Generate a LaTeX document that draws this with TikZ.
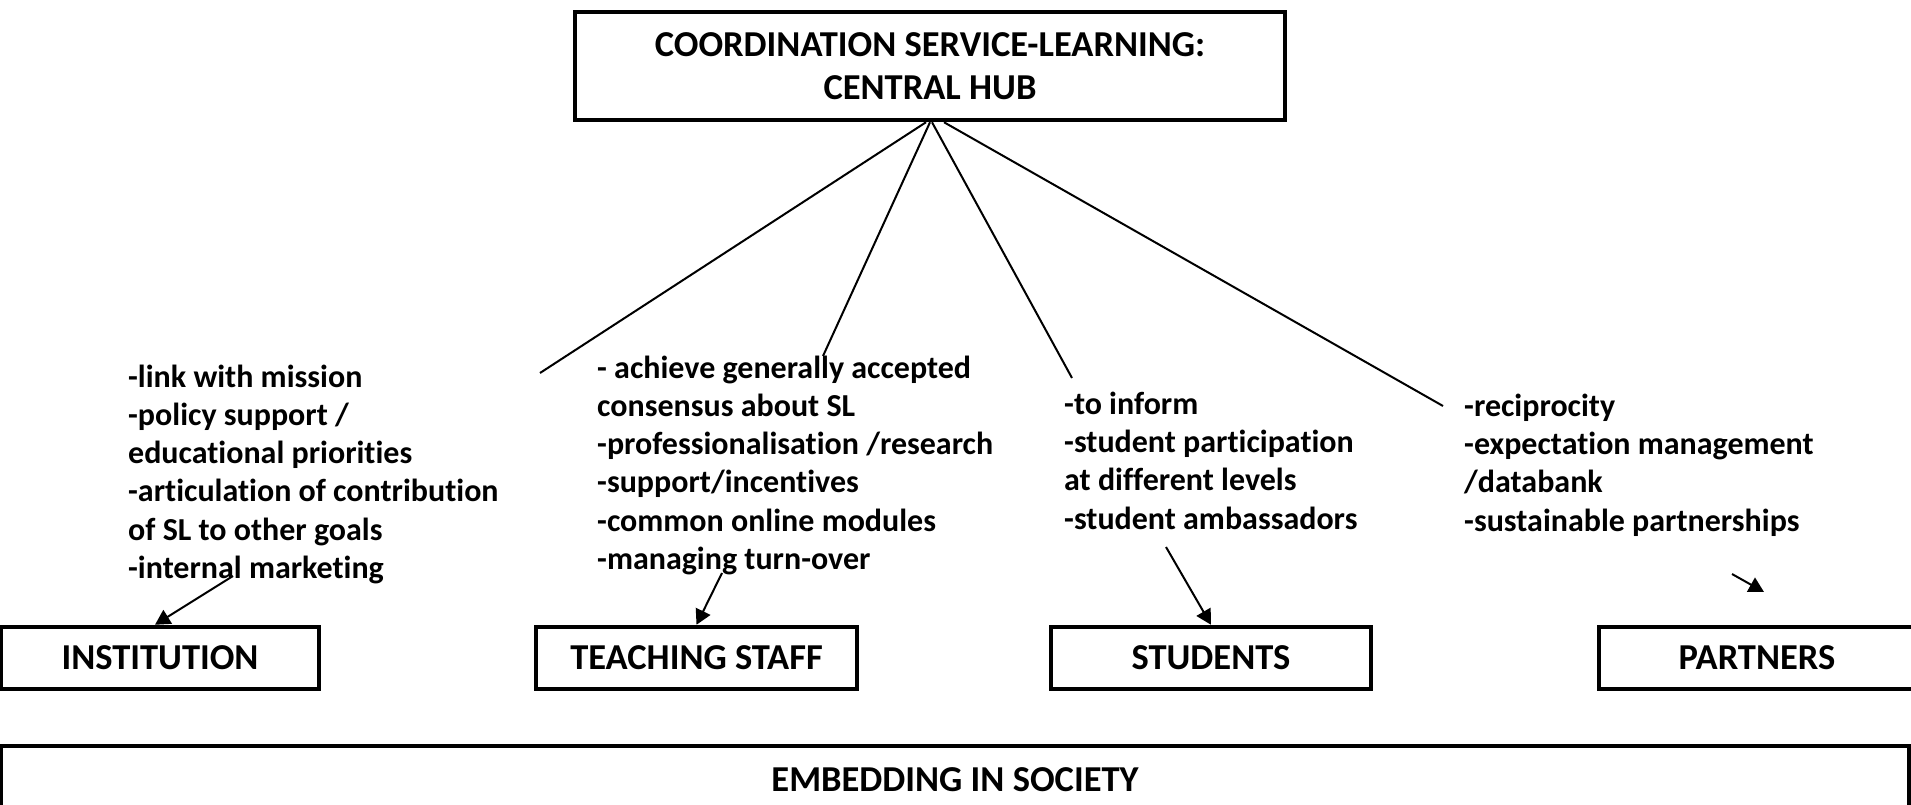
\documentclass[tikz,border=0pt]{standalone}
\usepackage{fontspec}
\setmainfont[Ligatures={NoCommon}]{Carlito}
\usetikzlibrary{arrows.meta}
\begin{document}
\begin{tikzpicture}[x=1pt,y=-1pt,
  box/.style={draw, line width=4.5pt, inner sep=0pt, font=\fontsize{36.5}{42.5}\selectfont\bfseries, align=center},
  items/.style={anchor=base west, inner sep=0pt, align=left, font=\fontsize{32}{38.3}\selectfont\bfseries},
  spoke/.style={line width=2pt},
  arr/.style={line width=2pt, -{Triangle[length=15pt,width=16pt]}}]
\useasboundingbox (0,0) rectangle (1911,805);
\node[box, minimum width=710pt, minimum height=108pt] (hub) at (930,66) {\raisebox{-3pt}{COORDINATION SERVICE-LEARNING:}\\\raisebox{-3pt}{CENTRAL HUB}};
\node[box, minimum width=318pt, minimum height=62pt] (inst) at (160,658) {INSTITUTION};
\node[box, minimum width=321pt, minimum height=62pt] (teach) at (696.5,658) {TEACHING STAFF};
\node[box, minimum width=320pt, minimum height=62pt] (stud) at (1211,658) {STUDENTS};
\node[box, minimum width=316pt, minimum height=62pt] (part) at (1757,658) {PARTNERS};
\node[box, minimum width=1908pt, minimum height=68pt] (soc) at (955,780) {EMBEDDING IN SOCIETY};

\node[items] (ti) at (128,578.5) {-link with mission\\-policy support /\\educational priorities\\-articulation of contribution\\of SL to other goals\\-internal marketing};
\node[items] (tt) at (597,569.5) {- achieve generally accepted\\consensus about SL\\-professionalisation /research\\-support/incentives\\-common online modules\\-managing turn-over};
\node[items] (ts) at (1064,529) {-to inform\\-student participation\\at different levels\\-student ambassadors};
\node[items] (tp) at (1464,531) {-reciprocity\\-expectation management\\/databank\\-sustainable partnerships};

\coordinate (e1) at (540,373);
\coordinate (e2) at (823,356);
\coordinate (e3) at (1072,378);
\coordinate (e4) at (1443,406);
\draw[spoke] ([xshift=-4pt]hub.south) -- (e1);
\draw[spoke] ([xshift=0pt]hub.south) -- (e2);
\draw[spoke] ([xshift=2pt]hub.south) -- (e3);
\draw[spoke] ([xshift=14pt]hub.south) -- (e4);

\coordinate (a1) at (233,576);
\coordinate (a2) at (722,573);
\coordinate (a3) at (1166,547);
\coordinate (a4) at (1732,574);
\coordinate (p4) at (1764,592);
\draw[arr] (a1) -- ([xshift=-5pt]inst.north);
\draw[arr] (a2) -- (teach.north);
\draw[arr] (a3) -- (stud.north);
\draw[arr] (a4) -- (p4);
\end{tikzpicture}
\end{document}
